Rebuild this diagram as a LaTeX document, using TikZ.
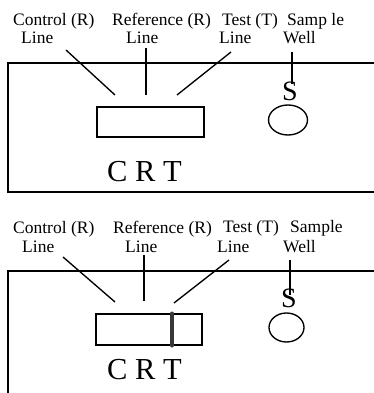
\documentclass[tikz,border=0pt]{standalone}
\usepackage{fontspec}
\setmainfont{Liberation Serif}
\usetikzlibrary{shapes.geometric}
\begin{document}
\begin{tikzpicture}[x=1pt,y=-1pt,
  lbl/.style={anchor=base west,inner sep=0pt,font=\fontsize{17.5}{20}\selectfont},
  big/.style={anchor=base west,inner sep=0pt,font=\fontsize{30.5}{34}\selectfont},
  sletter/.style={anchor=base,inner sep=0pt,font=\fontsize{28}{32}\selectfont},
  wire/.style={line width=1.35pt},
  window/.style={draw,line width=1.35pt,rectangle,inner sep=0pt},
  well/.style={draw,line width=1.35pt,ellipse,inner sep=0pt},
  band/.style={line width=4pt,draw=black!78,line cap=round}]
\useasboundingbox (0,0) rectangle (374,393);
% ---------- top panel ----------
\draw[wire] (374,63) -- (8,63) -- (8,192) -- (374,192);
\node[lbl] (c1) at (13,26) {Control (R)};
\node[lbl] (c1l) at (21,44) {Line};
\node[lbl] (r1) at (112,26) {Reference (R)};
\node[lbl] (r1l) at (126,44) {Line};
\node[lbl] (t1) at (222,26) {Test (T)};
\node[lbl] (t1l) at (219,44) {Line};
\node[lbl] (s1) at (287,26) {Samp le};
\node[lbl] (s1l) at (283,44) {Well};
\node[window,minimum width=107pt,minimum height=30pt] (win1) at (150.5,122) {};
\node[big] (crt1) at (107,181) {C R T};
\node[sletter] (S1) at (290,101) {S};
\node[well,minimum width=39pt,minimum height=30pt] (w1) at (288,120) {};
\coordinate (c1a) at (66,50);  \coordinate (c1b) at (115,95);
\coordinate (r1a) at (146,48); \coordinate (r1b) at (146,95);
\coordinate (t1a) at (231,52); \coordinate (t1b) at (177,95);
\coordinate (s1a) at (292,52); \coordinate (s1b) at (292,84);
\draw[wire] (c1a) -- (c1b);
\draw[wire] (r1a) -- (r1b);
\draw[wire] (t1a) -- (t1b);
\draw[wire] (s1a) -- (s1b);
% ---------- bottom panel ----------
\draw[wire] (374,271) -- (8,271) -- (8,393);
\node[lbl] (c2) at (13,233) {Control (R)};
\node[lbl] (c2l) at (22,252) {Line};
\node[lbl] (r2) at (113,233) {Reference (R)};
\node[lbl] (r2l) at (125,252) {Line};
\node[lbl] (t2) at (223,232) {Test (T)};
\node[lbl] (t2l) at (217,252) {Line};
\node[lbl] (s2) at (290,232) {Sample};
\node[lbl] (s2l) at (283,252) {Well};
\node[window,minimum width=106pt,minimum height=31pt] (win2) at (149,329.5) {};
\coordinate (bandtop) at (172,313.5);
\coordinate (bandbot) at (172,345.5);
\draw[band] (bandtop) -- (bandbot);
\node[big] (crt2) at (107,379) {C R T};
\node[sletter] (S2) at (289,307) {S};
\node[well,minimum width=35pt,minimum height=29pt] (w2) at (286.5,327.5) {};
\coordinate (c2a) at (63,257);  \coordinate (c2b) at (115,302);
\coordinate (r2a) at (144,255); \coordinate (r2b) at (144,301);
\coordinate (t2a) at (229,260); \coordinate (t2b) at (174,303);
\coordinate (s2a) at (290,260); \coordinate (s2b) at (290,295);
\draw[wire] (c2a) -- (c2b);
\draw[wire] (r2a) -- (r2b);
\draw[wire] (t2a) -- (t2b);
\draw[wire] (s2a) -- (s2b);
\end{tikzpicture}
\end{document}
